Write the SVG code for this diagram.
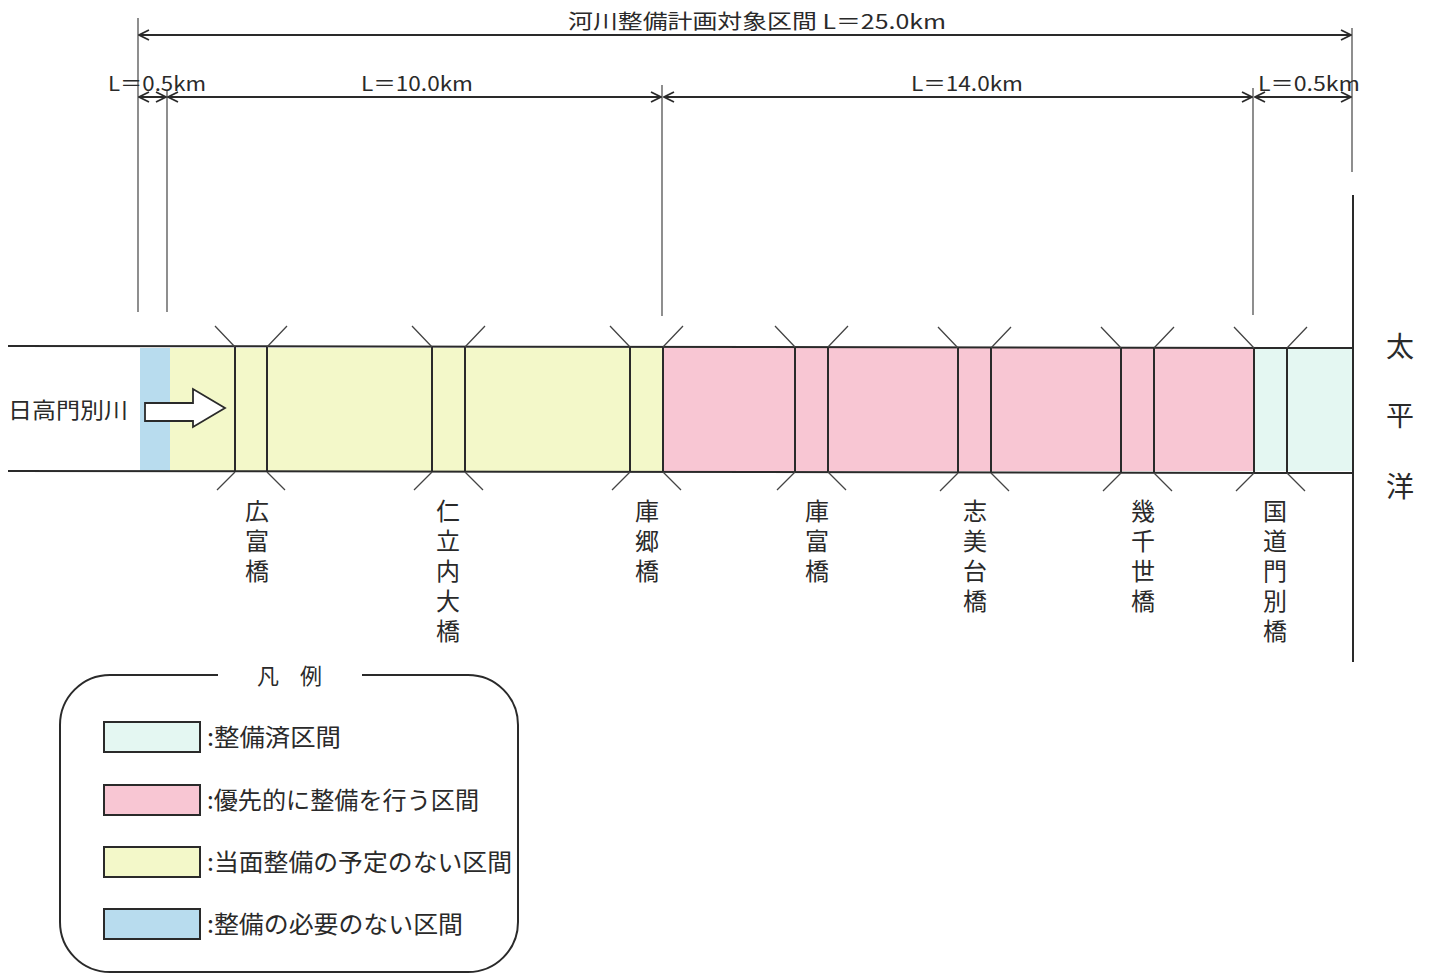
<svg xmlns="http://www.w3.org/2000/svg" width="1436" height="976" viewBox="0 0 1436 976">
<style>
text{font-family:"Noto Sans CJK JP","Noto Sans",sans-serif;fill:#2a2a2a}
.t{font-size:20px}
.b{font-size:24px;writing-mode:vertical-rl;text-orientation:upright;letter-spacing:6px}
.lg{font-size:24px}
.ln{stroke:#2a2a2a;stroke-width:2;fill:none}
.thin{stroke:#444;stroke-width:1.2;fill:none}
.w{stroke:#444;stroke-width:1.3;fill:none}
.dim{stroke:#2a2a2a;stroke-width:2;fill:none;marker-start:url(#ah);marker-end:url(#ah)}
.cy{fill:#e4f7f2}.pk{fill:#f8c6d3}.ye{fill:#f3f8c9}.bl{fill:#b8dcee}
</style>
<defs>
<marker id="ah" viewBox="0 0 12 12" refX="11" refY="6" markerWidth="12" markerHeight="12" markerUnits="userSpaceOnUse" orient="auto-start-reverse">
<path d="M1,1 L11,6 L1,11" fill="none" stroke="#2a2a2a" stroke-width="1.8"/>
</marker>
</defs>

<g id="dimensions">
<line class="thin" x1="138" y1="18" x2="138" y2="312"/>
<line class="thin" x1="167" y1="90" x2="167" y2="312"/>
<line class="thin" x1="662" y1="85" x2="662" y2="316"/>
<line class="thin" x1="1253" y1="88" x2="1253" y2="315"/>
<line class="thin" x1="1352" y1="28" x2="1352" y2="172"/>
<line class="dim" x1="139" y1="35" x2="1351" y2="35"/>
<text class="t" x="568" y="29" textLength="378" lengthAdjust="spacingAndGlyphs">河川整備計画対象区間  L＝25.0km</text>
<line class="dim" x1="139" y1="97" x2="166" y2="97"/>
<line class="dim" x1="168" y1="97" x2="661" y2="97"/>
<line class="dim" x1="664" y1="97" x2="1252" y2="97"/>
<line class="dim" x1="1255" y1="97" x2="1351" y2="97"/>
<text class="t" x="108" y="91" textLength="98" lengthAdjust="spacingAndGlyphs">L＝0.5km</text>
<text class="t" x="361" y="91" textLength="112" lengthAdjust="spacingAndGlyphs">L＝10.0km</text>
<text class="t" x="911" y="91" textLength="112" lengthAdjust="spacingAndGlyphs">L＝14.0km</text>
<text class="t" x="1258" y="91" textLength="102" lengthAdjust="spacingAndGlyphs">L＝0.5km</text>
</g>

<g id="river">
<rect class="bl" x="140" y="348" width="30" height="123"/>
<rect class="ye" x="170" y="348" width="493" height="123"/>
<rect class="pk" x="663" y="348" width="591" height="123"/>
<rect class="cy" x="1254" y="348" width="99" height="123"/>
<line class="ln" x1="8" y1="346" x2="1353" y2="348"/>
<line class="ln" x1="8" y1="471" x2="1353" y2="473"/>
<line class="ln" x1="1353" y1="195" x2="1353" y2="662"/>
<text x="8" y="418" style="font-size:22px" textLength="120" lengthAdjust="spacingAndGlyphs">日高門別川</text>
<path d="M145,403 L193,403 L193,389 L225,408 L193,427 L193,421 L145,421 Z" fill="#fff" stroke="#2a2a2a" stroke-width="1.8"/>
<text x="1400" y="357" style="font-size:28px;text-anchor:middle">太</text>
<text x="1400" y="426" style="font-size:28px;text-anchor:middle">平</text>
<text x="1400" y="497" style="font-size:28px;text-anchor:middle">洋</text>
</g>

<g id="bridge-hirotomi">
<path class="ln" d="M235,347 V472 M267,347 V472"/>
<path class="w" d="M215,326 L235,347 M267,347 L287,326 M235,472 L217,490 M267,472 L285,490"/>
<text class="b" x="257" y="499">広富橋</text>
</g>
<g id="bridge-nitachinai">
<path class="ln" d="M432,347 V472 M465,347 V472"/>
<path class="w" d="M412,326 L432,347 M465,347 L485,326 M432,472 L414,490 M465,472 L483,490"/>
<text class="b" x="448" y="499">仁立内大橋</text>
</g>
<g id="bridge-kogo">
<path class="ln" d="M630,347 V472 M663,347 V472"/>
<path class="w" d="M610,326 L630,347 M663,347 L683,326 M630,472 L612,490 M663,472 L681,490"/>
<text class="b" x="647" y="499">庫郷橋</text>
</g>
<g id="bridge-kotomi">
<path class="ln" d="M795,347 V472 M828,347 V472"/>
<path class="w" d="M775,326 L795,347 M828,347 L848,326 M795,472 L777,490 M828,472 L846,490"/>
<text class="b" x="817" y="499">庫富橋</text>
</g>
<g id="bridge-shibitai">
<path class="ln" d="M958,348 V473 M991,348 V473"/>
<path class="w" d="M938,327 L958,348 M991,348 L1011,327 M958,473 L940,491 M991,473 L1009,491"/>
<text class="b" x="975" y="499">志美台橋</text>
</g>
<g id="bridge-ikuchise">
<path class="ln" d="M1121,348 V473 M1154,348 V473"/>
<path class="w" d="M1101,327 L1121,348 M1154,348 L1174,327 M1121,473 L1103,491 M1154,473 L1172,491"/>
<text class="b" x="1143" y="499">幾千世橋</text>
</g>
<g id="bridge-kokudo-monbetsu">
<path class="ln" d="M1254,348 V473 M1287,348 V473"/>
<path class="w" d="M1234,327 L1254,348 M1287,348 L1307,327 M1254,473 L1236,491 M1287,473 L1305,491"/>
<text class="b" x="1275" y="499">国道門別橋</text>
</g>

<g id="legend">
<path class="ln" d="M218,675 L110,675 A50,50 0 0 0 60,725 L60,922 A50,50 0 0 0 110,972 L468,972 A50,50 0 0 0 518,922 L518,725 A50,50 0 0 0 468,675 L362,675" stroke-width="1.8"/>
<text x="257" y="684" style="font-size:22px" textLength="65" lengthAdjust="spacing">凡 例</text>
<rect class="cy" x="104" y="722" width="96" height="30" stroke="#2a2a2a" stroke-width="2"/>
<rect class="pk" x="104" y="785" width="96" height="30" stroke="#2a2a2a" stroke-width="2"/>
<rect class="ye" x="104" y="847" width="96" height="30" stroke="#2a2a2a" stroke-width="2"/>
<rect class="bl" x="104" y="909" width="96" height="30" stroke="#2a2a2a" stroke-width="2"/>
<text class="lg" x="207" y="746" textLength="134" lengthAdjust="spacingAndGlyphs">:整備済区間</text>
<text class="lg" x="207" y="809" textLength="272" lengthAdjust="spacingAndGlyphs">:優先的に整備を行う区間</text>
<text class="lg" x="207" y="871" textLength="305" lengthAdjust="spacingAndGlyphs">:当面整備の予定のない区間</text>
<text class="lg" x="207" y="933" textLength="256" lengthAdjust="spacingAndGlyphs">:整備の必要のない区間</text>
</g>
</svg>
